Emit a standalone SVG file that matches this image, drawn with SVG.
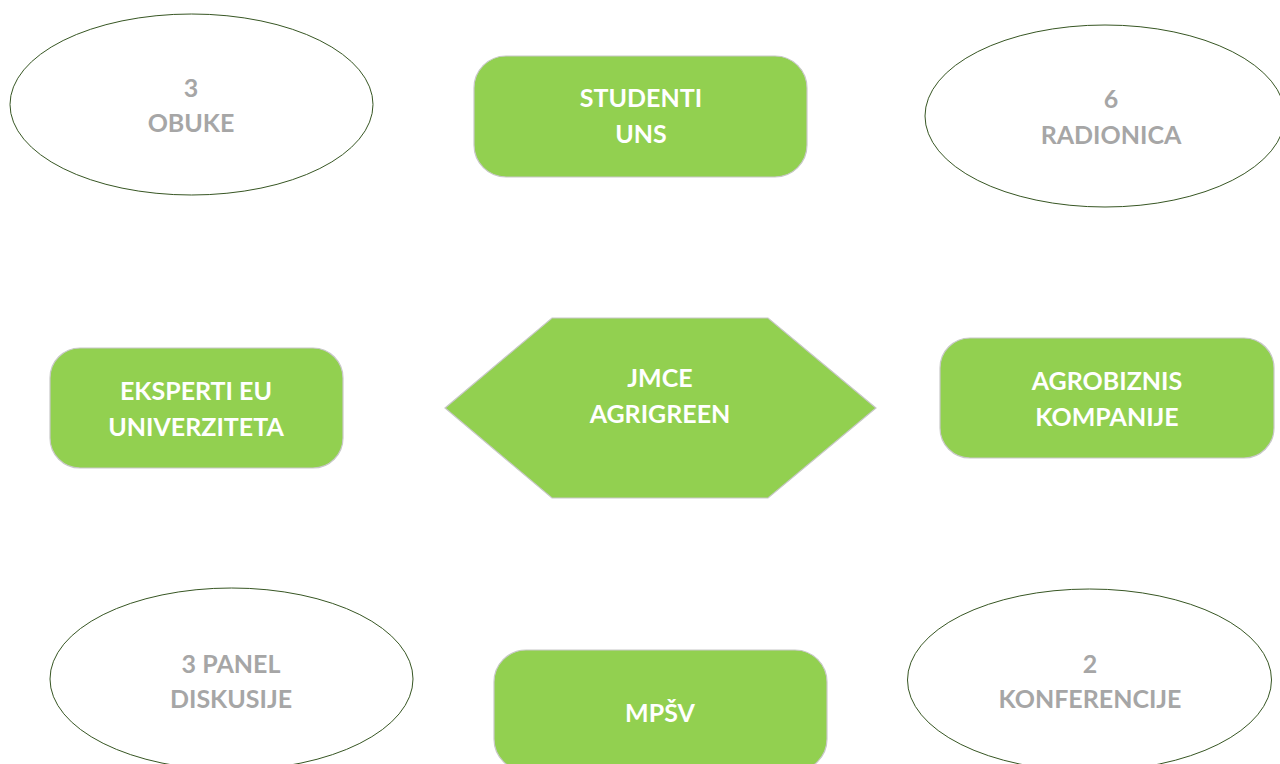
<svg xmlns="http://www.w3.org/2000/svg" width="1280" height="764" viewBox="0 0 1280 764">
<style>
.oval{fill:#ffffff;stroke:#375623;stroke-width:1}
.box{fill:#92D050;stroke:#C8C8C8;stroke-width:1.2}
.t{font-family:Lato,"Open Sans","Liberation Sans",sans-serif;font-weight:bold;font-size:25px;text-anchor:middle}
.w{fill:#ffffff}
.g{fill:#A6A6A6}
</style>
<rect width="1280" height="764" fill="#ffffff"/>
<g id="connectors"></g>
<g id="obuke">
<ellipse class="oval" cx="191.5" cy="104.5" rx="181.5" ry="90.5"/>
<text class="t g" x="191" y="97">3</text>
<text class="t g" x="191" y="132">OBUKE</text>
</g>
<g id="studenti">
<rect class="box" x="474" y="56" width="333" height="121" rx="32"/>
<text class="t w" x="641" y="107">STUDENTI</text>
<text class="t w" x="641" y="143">UNS</text>
</g>
<g id="radionica">
<ellipse class="oval" cx="1105" cy="116" rx="180" ry="91"/>
<text class="t g" x="1111" y="108">6</text>
<text class="t g" x="1111" y="144">RADIONICA</text>
</g>
<g id="eksperti">
<rect class="box" x="50" y="348" width="293" height="120" rx="30"/>
<text class="t w" x="196" y="400">EKSPERTI EU</text>
<text class="t w" x="196" y="436">UNIVERZITETA</text>
</g>
<g id="jmce">
<polygon class="box" points="445,408 552,318 768,318 876,408 768,498 552,498"/>
<text class="t w" x="660" y="387">JMCE</text>
<text class="t w" x="660" y="423">AGRIGREEN</text>
</g>
<g id="agrobiznis">
<rect class="box" x="940" y="338" width="334" height="120" rx="30"/>
<text class="t w" x="1107" y="390">AGROBIZNIS</text>
<text class="t w" x="1107" y="426">KOMPANIJE</text>
</g>
<g id="panel">
<ellipse class="oval" cx="231.5" cy="679" rx="181.5" ry="91"/>
<text class="t g" x="231" y="673">3 PANEL</text>
<text class="t g" x="231" y="708">DISKUSIJE</text>
</g>
<g id="mpsv">
<rect class="box" x="494" y="650" width="333" height="121" rx="32"/>
<text class="t w" x="660" y="722">MPŠV</text>
</g>
<g id="konferencije">
<ellipse class="oval" cx="1089.5" cy="680" rx="182" ry="91"/>
<text class="t g" x="1090" y="673">2</text>
<text class="t g" x="1090" y="708">KONFERENCIJE</text>
</g>
</svg>
